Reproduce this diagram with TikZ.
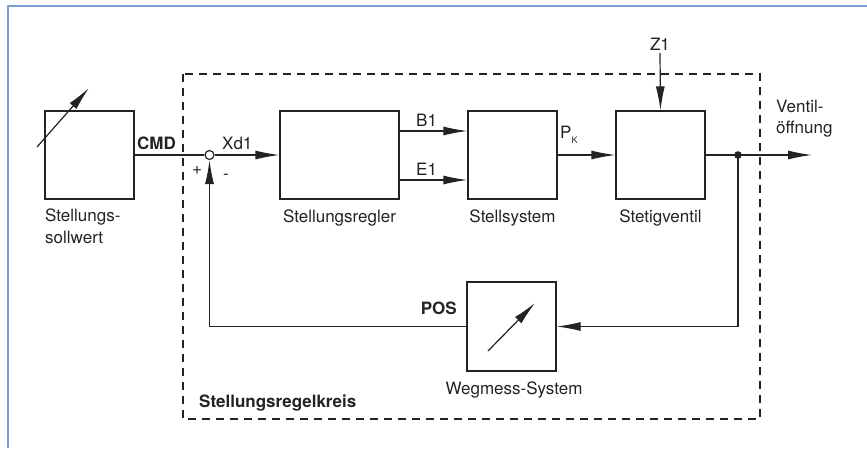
\documentclass[tikz,border=0pt]{standalone}
\usepackage{fontspec}
\setmainfont{TeX Gyre Heros}
\usetikzlibrary{arrows.meta}
\definecolor{frameblue}{RGB}{120,160,215}
\definecolor{ink}{RGB}{35,35,35}
\tikzset{
  blk/.style={draw=ink,line width=1.2pt,minimum width=89pt,minimum height=88pt,inner sep=0pt},
  conn/.style={draw=ink,line width=1.2pt},
  arr/.style={conn,-{Latex[length=24pt,width=9pt]}},
  lbl/.style={inner sep=0pt,text=ink},
}
\begin{document}
\begin{tikzpicture}[x=1pt,y=-1pt,font=\fontsize{17}{20}\selectfont]
\useasboundingbox (0,0) rectangle (867,448);
% outer frame (only top and left visible)
\draw[frameblue,line width=1.5pt] (8,448) -- (8,6) -- (867,6);
% dashed loop box
\draw[ink,line width=1.1pt,dash pattern=on 8pt off 6pt] (183,74) rectangle (760,419);
% blocks
\node[blk] (soll) at (89.5,155) {};
\node[blk,minimum width=119pt] (regler) at (339.5,155) {};
\node[blk] (stell) at (512.5,155) {};
\node[blk] (ventil) at (660.5,155) {};
\node[blk,minimum height=89pt] (weg) at (511.5,326.5) {};
% summing junction
\node[draw=ink,line width=1.2pt,circle,minimum size=9pt,inner sep=0pt,fill=white] (sum) at (209.5,155) {};
% coordinates
\coordinate (s1) at (37,147);
\coordinate (s2) at (89,88);
\coordinate (w1) at (488,351);
\coordinate (w2) at (535,303);
\coordinate (z1) at (660,53);
\coordinate (out) at (812,155);
\coordinate (fb) at (209.5,326.5);
\coordinate (dotc) at (738,155);
\coordinate (dotd) at (738,326.5);
% connectors
\draw[arr] (s1) -- (s2);
\draw[arr] (w1) -- (w2);
\draw[conn] (soll.east) -- (sum.west);
\draw[arr] (sum.east) -- (regler.west);
\draw[arr] (regler.east |- 0,131) -- (stell.west |- 0,131);
\draw[arr] (regler.east |- 0,180) -- (stell.west |- 0,180);
\draw[arr] (stell.east) -- (ventil.west);
\draw[arr] (z1) -- (ventil.north);
\draw[arr] (ventil.east) -- (out);
\draw[arr] (dotc) -- (dotd) -- (weg.east);
\draw[arr] (weg.west) -- (fb) -- (sum.south);
\fill[ink] (dotc) circle (3.8pt);
% labels
\node[lbl,anchor=base west] (cmd) at (137,149) {\bfseries CMD};
\node[lbl,anchor=base west] (xd) at (222,149) {Xd1};
\node[lbl] (plus) at (197,170) {+};
\node[lbl] (minus) at (226,177) {-};
\node[lbl,anchor=base west] (b1) at (416,126) {B1};
\node[lbl,anchor=base west] (e1) at (416,175) {E1};
\node[lbl,anchor=base west] (pk) at (560,138) {P\raisebox{-5pt}{\fontsize{9}{9}\selectfont K}};
\node[lbl] (z1l) at (660,44) {Z1};
\node[lbl,anchor=base west] (v1) at (776,112) {Ventil-};
\node[lbl,anchor=base west] (v2) at (776,133) {öffnung};
\node[lbl,anchor=base west] (sl1) at (45,221) {Stellungs-};
\node[lbl,anchor=base west] (sl2) at (45,243) {sollwert};
\node[lbl,anchor=base] (rl) at (339.5,222) {Stellungsregler};
\node[lbl,anchor=base] (sl) at (512.5,222) {Stellsystem};
\node[lbl,anchor=base] (vl) at (660.5,222) {Stetigventil};
\node[lbl,anchor=base east] (pos) at (457,314) {\bfseries POS};
\node[lbl,anchor=base] (wl) at (514,394) {Wegmess-System};
\node[lbl,anchor=base west] (kreis) at (199,407) {\bfseries Stellungsregelkreis};
\end{tikzpicture}
\end{document}
